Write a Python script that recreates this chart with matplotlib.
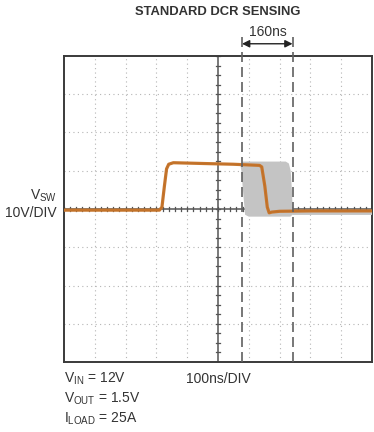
import matplotlib
matplotlib.use("Agg")
import matplotlib.pyplot as plt

# ---- data (in divisions) ----
title = "STANDARD DCR SENSING"
marker_t = [5.78, 7.42]          # dashed cursor positions
marker_label = "160ns"
trace_t = [0, 3.10, 3.18, 3.26, 3.33, 3.40, 3.55, 4.5, 5.5, 6.35, 6.42, 6.52, 6.60, 6.66, 6.75, 7.0, 8.0, 10]
trace_v = [-0.03, -0.03, 0.05, 0.6, 1.05, 1.17, 1.21, 1.19, 1.17, 1.14, 1.1, 0.6, 0.05, -0.1, -0.08, -0.06, -0.05, -0.05]
gray_t = [5.72, 5.80, 7.20, 7.30, 7.36, 7.40, 7.42, 7.50, 7.42, 7.35, 6.0, 5.88, 5.82, 5.76]
gray_v = [1.18, 1.24, 1.24, 1.19, 1.0, 0.5, 0.05, -0.08, -0.15, -0.2, -0.2, -0.15, 0.4, 1.0]
band_t = [7.4, 8.5, 10]
band_v = [-0.08, -0.08, -0.08]
ylabel_lines = ["V$_{\\mathrm{SW}}$", "10V/DIV"]
xlabel = "100ns/DIV"
cond_lines = ["V$_{\\mathrm{IN}}$ = 12V", "V$_{\\mathrm{OUT}}$ = 1.5V", "I$_{\\mathrm{LOAD}}$ = 25A"]

fam = ["Liberation Sans", "DejaVu Sans"]
plt.rcParams["font.family"] = fam
plt.rcParams["mathtext.fontset"] = "custom"
plt.rcParams["mathtext.rm"] = "Liberation Sans"
plt.rcParams["mathtext.it"] = "Liberation Sans"
plt.rcParams["mathtext.default"] = "rm"

W, H = 374, 432
fig = plt.figure(figsize=(W / 100, H / 100), dpi=100)
ax = fig.add_axes([64 / W, 1 - 362 / H, 308 / W, 306 / H])
ax.set_xlim(0, 10)
ax.set_ylim(-4, 4)
ax.set_xticks([])
ax.set_yticks([])
for s in ax.spines.values():
    s.set_color("#3a3a3a")
    s.set_linewidth(1.4)

grid_c = "#b5b5b5"
for i in range(1, 10):
    if i != 5:
        ax.axvline(i, color=grid_c, lw=0.8, ls=(0, (1, 3)), zorder=1)
for j in range(-3, 4):
    if j != 0:
        ax.axhline(j, color=grid_c, lw=0.8, ls=(0, (1, 3)), zorder=1)

# center axes with sub-ticks
ax.axvline(5, color="#555555", lw=1.1, zorder=2)
ax.axhline(0, color="#555555", lw=1.1, zorder=2)
for k in range(-16, 17):
    yy = k * 0.25
    ax.plot([4.93, 5.07], [yy, yy], color="#555555", lw=0.9, zorder=2)
for k in range(0, 51):
    xx = k * 0.2
    ax.plot([xx, xx], [-0.06, 0.06], color="#555555", lw=0.9, zorder=2)

# gray persistence envelope
ax.fill(gray_t, gray_v, color="#c4c4c4", lw=0, zorder=3)
ax.plot(band_t, band_v, color="#c4c4c4", lw=3.5, zorder=3, solid_capstyle="butt")

# orange trace
ax.plot(trace_t, trace_v, color="#c8772e", lw=2.3, zorder=4, solid_joinstyle="round")
ax.plot(trace_t, trace_v, color="#b86a25", lw=0.7, zorder=4, alpha=0.6)

# dashed cursors
for m in marker_t:
    ax.plot([m, m], [-4, 4.52], color="#606060", lw=1.2, ls=(0, (6, 3)), zorder=5, clip_on=False)
ax.annotate("", xy=(marker_t[0], 4.32), xytext=(marker_t[1], 4.32),
            arrowprops=dict(arrowstyle="<|-|>", color="#222222", lw=1.0, mutation_scale=11, shrinkA=0, shrinkB=0),
            annotation_clip=False)
fig.text(268 / W, 1 - 32 / H, marker_label, ha="center", va="center", fontsize=10, color="#333333")

# title
fig.text(218 / W, 1 - 12 / H, title, ha="center", va="center", fontsize=9.4, fontweight="bold", color="#333333")

# y label
fig.text(57 / W, 1 - 196 / H, ylabel_lines[0], ha="right", va="center", fontsize=10, color="#333333")
fig.text(57 / W, 1 - 213 / H, ylabel_lines[1], ha="right", va="center", fontsize=10, color="#333333")

# bottom texts
for i, line in enumerate(cond_lines):
    fig.text(64 / W, 1 - (379 + 20 * i) / H, line, ha="left", va="center", fontsize=10, color="#333333")
fig.text(186 / W, 1 - 379 / H, xlabel, ha="left", va="center", fontsize=10, color="#333333")

fig.savefig("out.png", dpi=100)
